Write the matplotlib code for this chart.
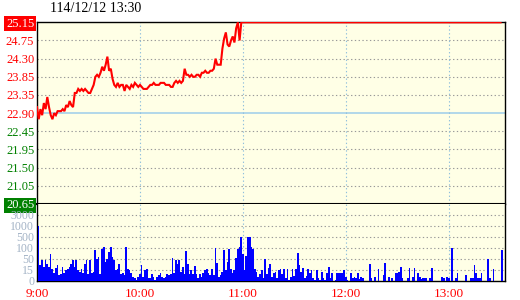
import numpy as np
import matplotlib
matplotlib.use("Agg")
import matplotlib.pyplot as plt

plt.rcParams['font.family'] = ['Liberation Serif', 'DejaVu Serif']

# ---------------- data ----------------
title = "114/12/12 13:30"
ref_price = 22.90
price_min, price_max = 20.65, 25.15
price_tick_labels = ["20.65", "21.05", "21.50", "21.95", "22.45", "22.90",
                     "23.35", "23.85", "24.30", "24.75", "25.15"]

# per-minute price from 9:00 (minute 0) to 11:00 (minute 120), then close at 13:30
prices = [23.05, 22.75, 23.00, 22.85, 23.15, 23.00, 23.30, 23.05, 22.85, 22.75,
          22.90, 22.85, 22.95, 22.95, 22.95, 23.00, 22.95, 23.10, 23.05, 23.20,
          23.10, 23.05, 23.40, 23.40, 23.50, 23.45, 23.50, 23.45, 23.50, 23.45,
          23.40, 23.40, 23.50, 23.60, 23.80, 23.85, 23.80, 23.90, 24.05, 23.95,
          24.10, 24.30, 23.95, 24.00, 23.75, 23.60, 23.55, 23.65, 23.55, 23.60,
          23.60, 23.45, 23.60, 23.55, 23.50, 23.60, 23.55, 23.65, 23.60, 23.55,
          23.60, 23.55, 23.50, 23.50, 23.50, 23.55, 23.60, 23.60, 23.65, 23.60,
          23.60, 23.60, 23.65, 23.65, 23.65, 23.60, 23.60, 23.60, 23.55, 23.55,
          23.65, 23.70, 23.65, 23.70, 23.65, 23.70, 24.00, 23.85, 23.85, 23.80,
          23.85, 23.80, 23.80, 23.85, 23.85, 23.80, 23.90, 23.90, 23.95, 23.90,
          23.90, 23.95, 23.95, 24.00, 24.25, 24.10, 24.10, 24.10, 24.50, 24.75,
          24.90, 24.60, 24.55, 24.70, 24.80, 24.65, 25.00, 25.15, 24.70, 25.15,
          25.15, 25.15]
price_minutes = list(range(121)) + [270]

# per-minute volume (lots), minute 0 .. 270
volumes = [1000, 30, 45, 23, 47, 34, 23, 72, 18, 10,
           21, 31, 7, 9, 23, 10, 15, 18, 23, 34,
           45, 23, 47, 15, 12, 18, 10, 34, 45, 9,
           47, 10, 12, 90, 50, 57, 9, 95, 140, 40,
           50, 80, 125, 57, 45, 15, 18, 34, 9, 10,
           7, 125, 18, 15, 10, 5, 4, 1, 5, 9,
           29, 5, 15, 18, 4, 3,
           9, 5, 1, 5, 7, 10, 5, 4, 5, 9,
           7, 9, 55, 10, 45, 34, 45, 12, 23, 9,
           83, 34, 9, 15, 9, 25, 9, 4, 9, 5,
           10, 15, 16, 10, 7, 18, 7, 100, 36, 5,
           7, 12, 88, 15, 40, 95, 18, 10, 15, 55,
           95, 125, 500, 72, 15, 60, 500, 500, 110, 95,
           18, 12, 5, 9, 15, 4, 50, 9, 20, 34,
           5, 10, 12, 4, 15, 18, 9, 18, 3, 18,
           1, 5, 18, 6, 18, 75, 29, 12, 21, 3,
           6, 18, 10, 15, 4, 1, 15, 3, 1, 12,
           3, 1, 10, 23, 3, 10, 0, 1, 10, 10,
           10, 10, 15, 5, 1, 0, 10, 3, 5, 3,
           10, 2, 5, 3, 0, 0, 0, 33, 3, 0,
           5, 0, 17, 0, 0, 7, 36, 0, 5,
           0, 4, 0, 10, 10, 12, 23, 3, 0, 0,
           3, 20, 0, 5, 20, 0, 10, 5, 2, 3,
           4, 3, 0, 3, 19, 0, 0, 0, 0, 0,
           5, 3, 0, 5, 3, 0, 100, 0, 4, 10,
           0, 0, 0, 0, 7, 0, 0, 3, 3, 29,
           10, 3, 3, 10, 0, 0, 0, 50, 4, 0,
           17, 0, 0, 0, 0, 88]
vol_ticks = [0, 15, 50, 100, 500, 1000, 3000]
vol_tick_labels = ["0", "15", "50", "100", "500", "1000", "3000"]
vol_top = 5000

hour_minutes = [0, 60, 120, 180, 240]
hour_labels = ["9:00", "10:00", "11:00", "12:00", "13:00"]
x_end = 272.6

# ---------------- style ----------------
BG = "#FFFFE6"
RED = "#FF0000"
GREEN = "#008000"
GRID_GRAY = "#999999"
GRID_BLUE = "#8FBFDD"
REF_BLUE = "#9DCDEA"
VOL_LABEL = "#A3B3C6"
DOT = (0, (1.2, 2.2))

W, H = 520, 300
fig = plt.figure(figsize=(W / 100, H / 100), dpi=100)
fig.patch.set_facecolor("white")

L, R = 37, 505
ax1 = fig.add_axes([L / W, 1 - 204 / H, (R - L) / W, (204 - 21.5) / H])
ax2 = fig.add_axes([L / W, 1 - 280.5 / H, (R - L) / W, (280.5 - 204) / H])

for ax in (ax1, ax2):
    ax.set_facecolor(BG)
    ax.set_xlim(0, x_end)
    for s in ax.spines.values():
        s.set_color("black")
        s.set_linewidth(1.0)

# ---- price panel ----
ax1.set_ylim(price_min, price_max + 0.02)
tick_pos = np.linspace(price_min, price_max, len(price_tick_labels))
for v, lab in zip(tick_pos[1:-1], price_tick_labels[1:-1]):
    if lab == "%.2f" % ref_price:
        ax1.axhline(v, color=REF_BLUE, lw=1.1, zorder=1)
    else:
        ax1.axhline(v, color=GRID_GRAY, lw=0.8, ls=DOT, zorder=1)
for t in hour_minutes[1:]:
    ax1.axvline(t, color=GRID_BLUE, lw=0.8, ls=DOT, zorder=1)

ax1.plot(price_minutes, prices, color=RED, lw=1.5, zorder=3,
         solid_joinstyle="miter")

ax1.set_yticks(tick_pos, price_tick_labels)
ax1.set_xticks([])
ax1.tick_params(axis="y", length=0, pad=2, labelsize=9)
for lab, v in zip(ax1.get_yticklabels(), tick_pos):
    lab.set_color(RED if v >= ref_price - 1e-9 else GREEN)
top_lab = ax1.get_yticklabels()[-1]
top_lab.set_color("white")
top_lab.set_bbox(dict(boxstyle="square,pad=0.12", fc=RED, ec="none"))
bot_lab = ax1.get_yticklabels()[0]
bot_lab.set_color("white")
bot_lab.set_bbox(dict(boxstyle="square,pad=0.12", fc=GREEN, ec="none"))
ax1.spines["bottom"].set_linewidth(1.5)

# ---- volume panel ----
knots_v = vol_ticks + [vol_top]
knots_u = list(range(len(knots_v)))


def fwd(v):
    return np.interp(v, knots_v, knots_u)


def inv(u):
    return np.interp(u, knots_u, knots_v)


ax2.set_yscale("function", functions=(fwd, inv))
ax2.set_ylim(0, vol_top)
for v in vol_ticks[1:]:
    ax2.axhline(v, color=GRID_GRAY, lw=0.8, ls=DOT, zorder=1)
for t in hour_minutes[1:]:
    ax2.axvline(t, color=GRID_BLUE, lw=0.8, ls=DOT, zorder=1)

minutes = np.arange(len(volumes))
ax2.bar(minutes + 0.4, volumes, width=1.0, align="edge", color="#0000FF",
        linewidth=0, zorder=3)

ax2.set_yticks(vol_ticks, vol_tick_labels)
ax2.yaxis.set_minor_locator(matplotlib.ticker.NullLocator())
ax2.tick_params(axis="y", length=0, pad=2, labelsize=8.5, labelcolor=VOL_LABEL)
ax2.set_xticks(hour_minutes, hour_labels)
ax2.tick_params(axis="x", length=0, pad=5.5, labelsize=9.5, labelcolor=RED)
ax2.spines["top"].set_visible(False)

fig.text(50 / W, 1 - 8 / H, title, ha="left", va="center", fontsize=10,
         color="black")

fig.savefig("out.png", dpi=100, facecolor="white")
